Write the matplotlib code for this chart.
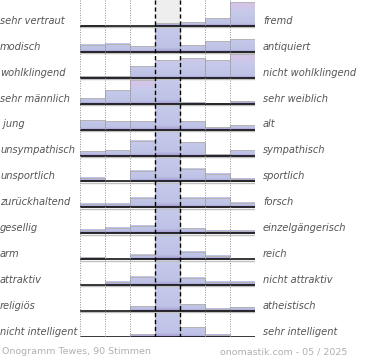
import matplotlib
matplotlib.use("Agg")
import matplotlib.pyplot as plt
import numpy as np
from matplotlib.colors import LinearSegmentedColormap
from matplotlib.patches import Rectangle
from matplotlib.transforms import blended_transform_factory

# Onogramm "Tewes" – Balkenhöhe in % der Zeilenhöhe (100 = abgeschnitten)
left_labels = ["sehr vertraut", "modisch", "wohlklingend", "sehr männlich", " jung",
               "unsympathisch", "unsportlich", "zurückhaltend", "gesellig", "arm",
               "attraktiv", "religiös", "nicht intelligent"]
right_labels = ["fremd", "antiquiert", "nicht wohlklingend", "sehr weiblich", "alt",
                "sympathisch", "sportlich", "forsch", "einzelgängerisch", "reich",
                "nicht attraktiv", "atheistisch", "sehr intelligent"]
values = [
    [2, 0, 0, 10, 15, 29, 92],
    [28, 32, 22, 100, 26, 41, 49],
    [6, 6, 46, 69, 77, 69, 92],
    [22, 51, 92, 100, 7, 2, 10],
    [37, 32, 32, 100, 32, 9, 18],
    [17, 22, 58, 100, 54, 6, 22],
    [14, 0, 41, 100, 47, 28, 9],
    [12, 12, 37, 100, 37, 37, 18],
    [12, 20, 28, 100, 19, 9, 9],
    [7, 0, 18, 100, 28, 14, 0],
    [0, 13, 33, 100, 28, 13, 13],
    [0, 0, 19, 100, 26, 9, 15],
    [0, 0, 10, 100, 38, 8, 0],
]
footer_left = "Onogramm Tewes, 90 Stimmen"
footer_right = "onomastik.com - 05 / 2025"

W, H = 370, 360
n_rows = len(values)
n_cols = len(values[0])

fig = plt.figure(figsize=(W / 100, H / 100), dpi=100)
ax = fig.add_axes([80 / W, (H - 337) / H, 175 / W, 337 / H])
ax.set_axis_off()

cmap = LinearSegmentedColormap.from_list(
    "ono", [(0.0, "#a498cf"), (0.09, "#bec2e6"), (0.5, "#c5caeb"), (1.0, "#ddc2e6")])

# neutral column background in first row
ax.add_patch(Rectangle((3, 0), 1, 1, facecolor="#eeeeee", edgecolor="none", zorder=0))

for i, row in enumerate(values):
    base = i + 1
    for j, v in enumerate(row):
        h = min(v, 100) / 100
        if h <= 0:
            continue
        top = 0.55 if v >= 100 else h
        grad = cmap(np.linspace(0, top, 64))[:, None, :]
        ax.imshow(grad, extent=(j, j + 1, base, base - h), origin="lower",
                  aspect="auto", interpolation="bilinear", zorder=1)
        ax.add_patch(Rectangle((j, base - h), 1, h, fill=False,
                               edgecolor="#b4b4b4", linewidth=0.7, zorder=2))
    ax.plot([0, n_cols], [base + 0.05, base + 0.05], color="#c0c0c0", lw=1.0,
            zorder=3, solid_capstyle="butt")
    ax.plot([0, n_cols], [base, base], color="black", lw=1.1, zorder=4,
            solid_capstyle="butt")

for x in range(n_cols + 1):
    if x in (3, 4):
        ax.plot([x, x], [0, n_rows], color="black", lw=1.0, ls=(0, (3, 2)), zorder=5)
    else:
        ax.plot([x, x], [0, n_rows + 0.05], color="#909090", lw=0.7, ls=(0, (1, 1.5)),
                zorder=5)

ax.set_xlim(0, n_cols)
ax.set_ylim(n_rows, 0)

trans = blended_transform_factory(fig.transFigure, ax.transData)
for i in range(n_rows):
    y = i + 1 - 0.2
    ax.text(0.0, y, left_labels[i], transform=trans, ha="left", va="center",
            fontsize=7.1, style="italic", color="#555555")
    ax.text(263 / W, y, right_labels[i], transform=trans, ha="left", va="center",
            fontsize=7.1, style="italic", color="#555555")

fig.text(2 / W, 1 - 352 / H, footer_left, ha="left", va="center",
         fontsize=6.8, color="#b0b0b0")
fig.text(347 / W, 1 - 352 / H, footer_right, ha="right", va="center",
         fontsize=6.8, color="#b0b0b0")

fig.savefig("out.png", dpi=100)
